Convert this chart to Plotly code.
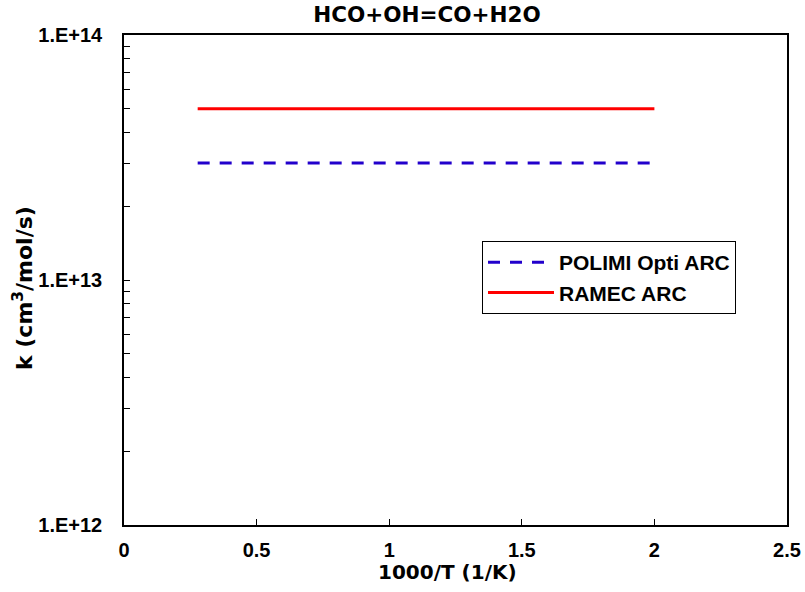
import plotly.graph_objects as go

# ---- data ----
temperature_K = [3600, 500]
inv_T = [1000.0 / t for t in temperature_K]
polimi_k = [3.0e13, 3.0e13]
ramec_k = [5.0e13, 5.0e13]

series_names = ["POLIMI Opti ARC", "RAMEC ARC"]
x_tick_vals = [0, 0.5, 1, 1.5, 2, 2.5]
x_tick_text = ["0", "0.5", "1", "1.5", "2", "2.5"]
y_tick_vals = [1e12, 1e13, 1e14]
y_tick_text = ["1.E+12", "1.E+13", "1.E+14"]
y_minor_vals = [m * 10 ** e for e in (12, 13) for m in range(2, 10)]

FONT = "Liberation Sans, Arial, sans-serif"
TFONT = "DejaVu Sans, sans-serif"

fig = go.Figure()
fig.add_trace(go.Scatter(
    x=inv_T, y=polimi_k, mode="lines", name=series_names[0],
    line=dict(color="#2200CC", width=3, dash="12px,10px"),
))
fig.add_trace(go.Scatter(
    x=inv_T, y=ramec_k, mode="lines", name=series_names[1],
    line=dict(color="#FF0000", width=3),
))

L, R, T, B = 124, 18, 35, 67
W, H = 805, 592
plot_w = W - L - R
plot_h = H - T - B

fig.update_layout(
    width=W, height=H,
    margin=dict(l=L, r=R, t=T, b=B, pad=0, autoexpand=False),
    paper_bgcolor="white", plot_bgcolor="white",
    font=dict(family=FONT, size=20, color="black", weight="bold"),
    title=dict(
        text="HCO+OH=CO+H2O",
        font=dict(family=TFONT, size=21.5, color="black", weight="bold"),
        x=427 / W, xref="container", xanchor="center",
        y=1 - 14 / H, yref="container", yanchor="middle",
    ),
    showlegend=True,
    legend=dict(
        x=(482 - L) / plot_w, y=(H - B - 241) / plot_h,
        xanchor="left", yanchor="top",
        bgcolor="white", bordercolor="black", borderwidth=1,
        font=dict(family=FONT, size=21, color="black", weight="bold"),
        tracegroupgap=0, itemwidth=66,
    ),
    xaxis=dict(
        range=[0, 2.5], tickmode="array", tickvals=x_tick_vals, ticktext=x_tick_text,
        ticks="inside", ticklen=6, tickwidth=1, tickcolor="black",
        showline=True, linecolor="black", linewidth=1.5, mirror=True,
        showgrid=False, zeroline=False, ticklabelstandoff=6, automargin=False,
        tickfont=dict(family=FONT, size=20, color="black", weight="bold"),
    ),
    yaxis=dict(
        type="log", range=[12, 14], tickmode="array", tickvals=y_tick_vals, ticktext=y_tick_text,
        ticks="inside", ticklen=6, tickwidth=1, tickcolor="black",
        minor=dict(ticks="inside", ticklen=6, tickwidth=1, tickcolor="black",
                   tickmode="array", tickvals=y_minor_vals, showgrid=False),
        showline=True, linecolor="black", linewidth=1.5, mirror=True,
        showgrid=False, zeroline=False, ticklabelstandoff=16, automargin=False,
        tickfont=dict(family=FONT, size=20, color="black", weight="bold"),
    ),
    annotations=[
        dict(text="1000/T (1/K)", xref="paper", yref="paper",
             x=(447.5 - L) / plot_w, y=-(572 - (H - B)) / plot_h,
             xanchor="center", yanchor="middle", showarrow=False,
             font=dict(family=TFONT, size=20, color="black", weight="bold")),
        dict(text="k (cm<sup>3</sup>/mol/s)", xref="paper", yref="paper",
             x=-(L - 23) / plot_w, y=((H - B) - 288) / plot_h,
             xanchor="center", yanchor="middle", textangle=-90, showarrow=False,
             font=dict(family=TFONT, size=22, color="black", weight="bold")),
    ],
)

fig.write_html("out.html", config={"displayModeBar": False},
               post_script="document.body.style.margin='0px';")
